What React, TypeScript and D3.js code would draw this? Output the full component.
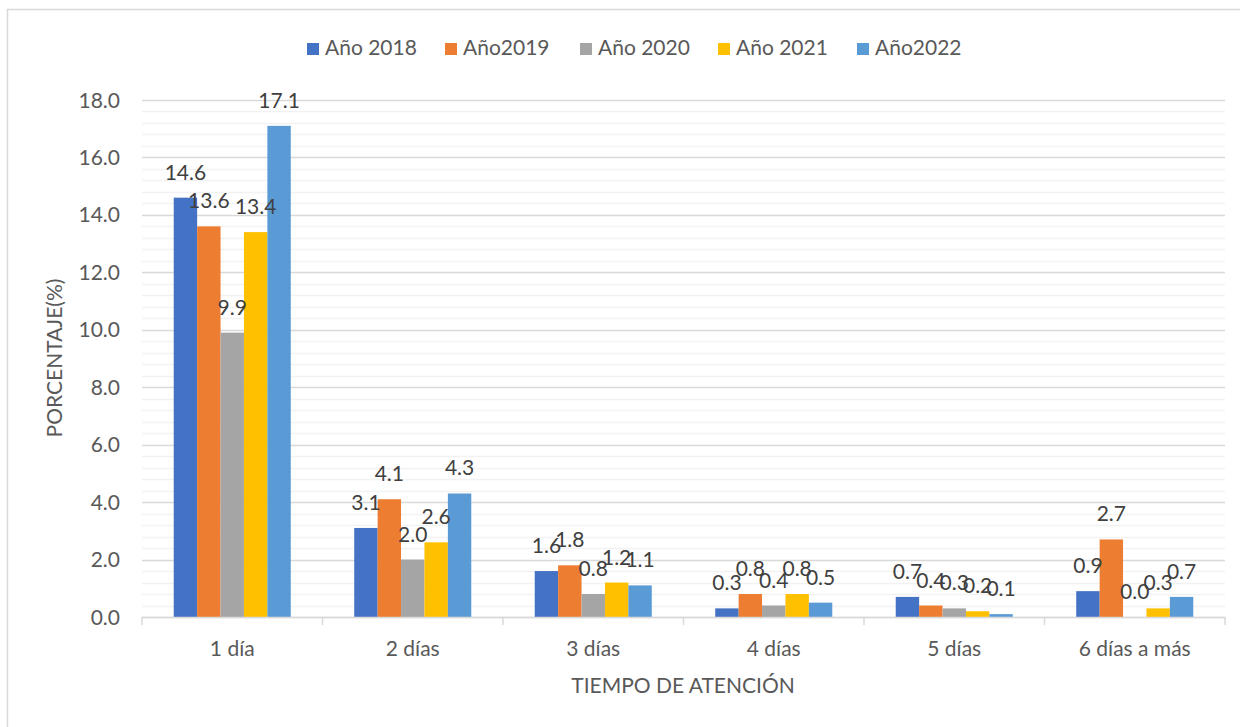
import React from "react";
import * as d3 from "d3";

const categories = ["1 día", "2 días", "3 días", "4 días", "5 días", "6 días a más"];
const seriesNames = ["Año 2018", "Año2019", "Año 2020", "Año 2021", "Año2022"];
const seriesColors = ["#4472C4", "#ED7D31", "#A5A5A5", "#FFC000", "#5B9BD5"];
const v2018 = [14.6, 3.1, 1.6, 0.3, 0.7, 0.9];
const v2019 = [13.6, 4.1, 1.8, 0.8, 0.4, 2.7];
const v2020 = [9.9, 2.0, 0.8, 0.4, 0.3, 0.0];
const v2021 = [13.4, 2.6, 1.2, 0.8, 0.2, 0.3];
const v2022 = [17.1, 4.3, 1.1, 0.5, 0.1, 0.7];
const seriesValues = [v2018, v2019, v2020, v2021, v2022];
const yTicks = [0, 2, 4, 6, 8, 10, 12, 14, 16, 18];

const W = 1240;
const H = 727;
const FONT = "Lato, sans-serif";

export default function App() {
  const left = 142;
  const right = 1225;
  const top = 100;
  const bottom = 617;

  const x = d3.scaleBand<string>().domain(categories).range([left, right]).paddingInner(0).paddingOuter(0);
  const y = d3.scaleLinear().domain([0, 18]).range([bottom, top]);
  const inner = d3
    .scaleBand<string>()
    .domain(seriesNames)
    .range([0, x.bandwidth()])
    .paddingOuter(1.355)
    .paddingInner(0);

  const minor = d3.range(0, 18.001, 0.4).filter((v) => Math.abs(v / 2 - Math.round(v / 2)) > 1e-6);

  const legendX = [307, 445, 580, 718, 857];

  return (
    <svg
      width={W}
      height={H}
      style={{ position: "absolute", left: 0, top: 0, background: "#fff" }}
      fontFamily={FONT}
    >
      <rect x={7.5} y={9.5} width={1260} height={740} fill="#fff" stroke="#D9D9D9" strokeWidth={1.5} />

      {minor.map((v) => (
        <line key={"m" + v} x1={left} x2={right} y1={Math.round(y(v)) + 0.5} y2={Math.round(y(v)) + 0.5} stroke="#F2F2F2" strokeWidth={1.5} />
      ))}
      {yTicks.map((v) => (
        <line key={"g" + v} x1={left} x2={right} y1={Math.round(y(v)) + 0.5} y2={Math.round(y(v)) + 0.5} stroke="#D9D9D9" strokeWidth={1.5} />
      ))}
      {yTicks.map((v) => (
        <text key={"t" + v} x={120} y={y(v)} dy="0.36em" textAnchor="end" fontSize={21} fill="#595959">
          {v.toFixed(1)}
        </text>
      ))}

      {seriesValues.map((vals, si) =>
        vals.map((val, ci) => (
          <rect
            key={"b" + si + "-" + ci}
            x={(x(categories[ci]) as number) + (inner(seriesNames[si]) as number)}
            y={y(val)}
            width={inner.bandwidth()}
            height={Math.max(0, y(0) - y(val))}
            fill={seriesColors[si]}
          />
        ))
      )}

      <line x1={left} x2={right} y1={bottom + 0.5} y2={bottom + 0.5} stroke="#D9D9D9" strokeWidth={1.5} />
      {d3.range(categories.length + 1).map((i) => {
        const xx = left + i * x.bandwidth();
        return <line key={"xt" + i} x1={xx} x2={xx} y1={bottom} y2={bottom + 8} stroke="#D9D9D9" strokeWidth={1.5} />;
      })}
      {categories.map((c) => (
        <text key={"c" + c} x={(x(c) as number) + x.bandwidth() / 2} y={656} textAnchor="middle" fontSize={21} fill="#595959">
          {c}
        </text>
      ))}

      {seriesValues.map((vals, si) =>
        vals.map((val, ci) => (
          <text
            key={"l" + si + "-" + ci}
            x={(x(categories[ci]) as number) + (inner(seriesNames[si]) as number) + inner.bandwidth() / 2}
            y={y(val) - 18}
            textAnchor="middle"
            fontSize={21}
            fill="#404040"
          >
            {val.toFixed(1)}
          </text>
        ))
      )}

      <text x={683} y={693} textAnchor="middle" fontSize={21} fill="#595959">
        TIEMPO DE ATENCIÓN
      </text>
      <text transform={`translate(62,358) rotate(-90)`} textAnchor="middle" fontSize={21} fill="#595959">
        PORCENTAJE(%)
      </text>

      {seriesNames.map((s, i) => (
        <g key={"lg" + s}>
          <rect x={legendX[i]} y={43} width={12} height={12} fill={seriesColors[i]} />
          <text x={legendX[i] + 18} y={55} fontSize={21} fill="#595959">
            {s}
          </text>
        </g>
      ))}
    </svg>
  );
}
